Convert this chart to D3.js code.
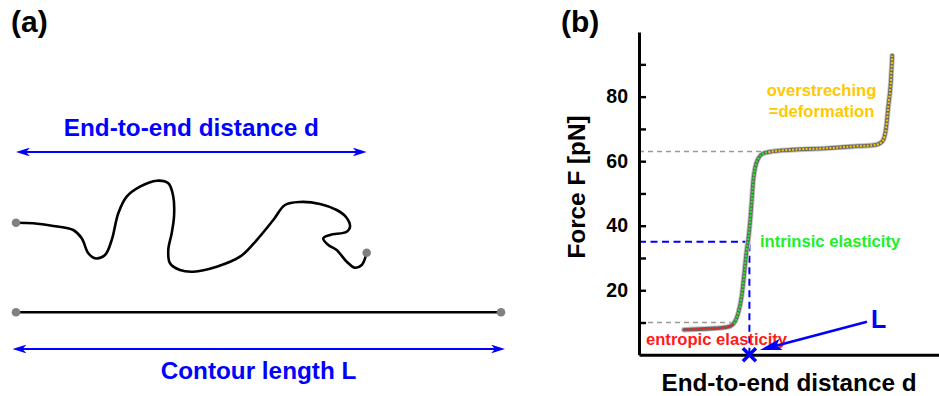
<!DOCTYPE html>
<html><head><meta charset="utf-8">
<script src="https://cdn.jsdelivr.net/npm/d3@7"></script>
<style>
html,body{margin:0;padding:0;background:#fff;}
svg{display:block;font-family:"Liberation Sans",Arial,sans-serif;font-weight:bold;}
</style></head>
<body><svg id="c" width="939" height="396"></svg>
<script>
// ---------- Panel (a): polymer schematic (units: % of contour length) ----------
const contourLength = 100;
const endToEnd = 72.3;
const chainU = [0,3.57,7.69,11.81,13.55,14.91,16.29,18.35,19.73,21.09,22.82,25.57,29.01,31.40,32.43,32.58,32.10,31.40,31.75,33.81,36.56,41.38,46.19,49.63,53.05,55.46,58.56,62.68,66.12,68.04,68.87,68.19,64.74,63.36,64.39,66.12,68.19,69.90,71.28,72.31];
const chainV = [0,-0.12,-0.68,-1.51,-3.22,-6.31,-7.34,-6.66,-3.57,1.94,5.36,7.42,8.66,8.12,5.36,1.24,-2.19,-5.63,-8.37,-9.75,-10.10,-9.07,-7.01,-3.57,0.56,3.65,4.27,3.86,2.62,1.18,-0.82,-1.86,-2.54,-3.22,-4.60,-5.63,-8.04,-9.28,-8.72,-6.19];
const contourLevel = -18.47;
const dArrowLevel = 14.58;
const LArrowLevel = -26.04;

// ---------- Panel (b): force-extension curve ----------
const curveD = [15,20.3,25.3,28.7,30.3,32,33.1,34.2,35.1,35.9,36.4,37,37.6,38.1,38.7,39.8,41.4,43.7,50.3,62.6,70.3,73.7,78.7,81,81.8,82.4,83.1,83.9,84.4];
const curveF = [7.75,7.97,8.2,8.5,8.8,10.3,13.0,18.0,25.3,32.5,35.6,40.9,48.0,54.2,57.9,60.9,62.4,62.9,63.5,64.0,64.5,64.7,65.0,66.0,67.5,70.5,77.0,84.0,92.7];
const yTicks = [10,20,30,40,50,60,70,80,90];
const phaseNames = ["entropic elasticity","intrinsic elasticity","overstreching"];
const phaseEnds = [31.5, 43, 100];
const plateauLow = 10, plateauLowEnd = 32.6;
const plateauHigh = 63, plateauHighEnd = 42.6;
const LPos = 36.8, LForce = 35;
const LLabelD = 76, LLabelF = 10.26, LTipD = 40.3, LTipF = 1.5;

const svg = d3.select("#c");
const defs = svg.append("defs");
function stealth(id, color, len, hw, notch){
  defs.append("marker").attr("id",id).attr("markerUnits","userSpaceOnUse")
    .attr("viewBox",`${-len} ${-hw} ${len+len} ${2*hw}`)
    .attr("markerWidth",2*len).attr("markerHeight",2*hw)
    .attr("refX",0).attr("refY",0).attr("orient","auto-start-reverse")
    .append("path").attr("d",`M${-len+6},${-hw}L6,0L${-len+6},${hw}L${-len+6+notch},0Z`).attr("fill",color);
}
stealth("arrA","#0000ff",14,4.4,4);
stealth("arrL","#0000ff",22,5.8,5);

// ===== Panel (a) =====
const xa = d3.scaleLinear().domain([0,100]).range([16,501]);
const ya = d3.scaleLinear().domain([0,10]).range([222.7,174.2]);
const ga = svg.append("g");
ga.append("text").attr("x",11).attr("y",32).attr("font-size",30).attr("fill","#000").text("(a)");

// d arrow
ga.append("line").attr("x1",xa(0)+6).attr("x2",xa(endToEnd)-6)
  .attr("y1",ya(dArrowLevel)).attr("y2",ya(dArrowLevel))
  .attr("stroke","#0000ff").attr("stroke-width",1.8)
  .attr("marker-start","url(#arrA)").attr("marker-end","url(#arrA)");
ga.append("text").attr("x",(xa(0)+xa(endToEnd))/2).attr("y",ya(dArrowLevel)-15.5)
  .attr("text-anchor","middle").attr("font-size",24.3).attr("fill","#0000ff").text("End-to-end distance d");

// chain
const chainPts = chainU.map((u,i)=>[xa(u), ya(chainV[i])]);
ga.append("path").attr("d", d3.line().curve(d3.curveCatmullRom.alpha(0.5))(chainPts))
  .attr("fill","none").attr("stroke","#000").attr("stroke-width",2.6).attr("stroke-linejoin","round");
ga.selectAll(".ce").data([0, chainU.length-1]).join("circle")
  .attr("cx",i=>xa(chainU[i])).attr("cy",i=>ya(chainV[i])).attr("r",4.3).attr("fill","#808080");

// contour line
ga.append("line").attr("x1",xa(0)).attr("x2",xa(contourLength))
  .attr("y1",ya(contourLevel)).attr("y2",ya(contourLevel))
  .attr("stroke","#000").attr("stroke-width",2.6);
ga.selectAll(".cl").data([0,contourLength]).join("circle")
  .attr("cx",d=>xa(d)).attr("cy",ya(contourLevel)).attr("r",4.3).attr("fill","#808080");

// L arrow
ga.append("line").attr("x1",xa(0)-3.5+6).attr("x2",xa(contourLength)+4-6)
  .attr("y1",ya(LArrowLevel)).attr("y2",ya(LArrowLevel))
  .attr("stroke","#0000ff").attr("stroke-width",1.8)
  .attr("marker-start","url(#arrA)").attr("marker-end","url(#arrA)");
ga.append("text").attr("x",xa(contourLength/2)).attr("y",ya(LArrowLevel)+30)
  .attr("text-anchor","middle").attr("font-size",24.3).attr("fill","#0000ff").text("Contour length L");

// ===== Panel (b) =====
const xb = d3.scaleLinear().domain([0,100]).range([639,939]);
const yb = d3.scaleLinear().domain([0,100]).range([354.8,32.1]);
const gb = svg.append("g");
gb.append("text").attr("x",561).attr("y",32).attr("font-size",30).attr("fill","#000").text("(b)");

// reference dashed lines
gb.append("line").attr("x1",xb(0)).attr("x2",xb(plateauLowEnd)).attr("y1",yb(plateauLow)).attr("y2",yb(plateauLow))
  .attr("stroke","#999").attr("stroke-width",1.6).attr("stroke-dasharray","5,4");
gb.append("line").attr("x1",xb(0)).attr("x2",xb(plateauHighEnd)).attr("y1",yb(plateauHigh)).attr("y2",yb(plateauHigh))
  .attr("stroke","#999").attr("stroke-width",1.6).attr("stroke-dasharray","5,4");
gb.append("line").attr("x1",xb(0)).attr("x2",xb(LPos)).attr("y1",yb(LForce)).attr("y2",yb(LForce))
  .attr("stroke","#0000ff").attr("stroke-width",2).attr("stroke-dasharray","7,4.5");
gb.append("line").attr("x1",xb(LPos)).attr("x2",xb(LPos)).attr("y1",yb(0)).attr("y2",yb(LForce))
  .attr("stroke","#0000ff").attr("stroke-width",2).attr("stroke-dasharray","7,4.5");

// curve
const line = d3.line().x((d,i)=>xb(curveD[i])).y((d,i)=>yb(curveF[i])).curve(d3.curveMonotoneX);
const cpath = line(curveD);
gb.append("path").attr("d",cpath).attr("fill","none").attr("stroke","#c4c4c4").attr("stroke-width",5.5).attr("stroke-linecap","round");
gb.append("path").attr("d",cpath).attr("fill","none").attr("stroke","#666").attr("stroke-width",3.6).attr("stroke-linecap","round");
const phaseColors = ["#ff1a1a","#22ee22","#ffc800"];
phaseEnds.forEach((e,i)=>{
  const s = i===0 ? 0 : phaseEnds[i-1];
  const cid = "clip"+i;
  defs.append("clipPath").attr("id",cid).append("rect")
    .attr("x",xb(s)).attr("y",0).attr("width",xb(e)-xb(s)).attr("height",396);
  gb.append("path").attr("d",cpath).attr("fill","none").attr("clip-path",`url(#${cid})`)
    .attr("stroke",phaseColors[i]).attr("stroke-width",2.1).attr("stroke-dasharray","1.9,1.5");
});

// axes
const yAxis = d3.axisLeft(yb).tickValues(yTicks).tickSizeInner(-7).tickSizeOuter(0).tickPadding(11)
  .tickFormat(d => d%20===0 ? d : "");
const ay = gb.append("g").attr("transform",`translate(${xb(0)},0)`).call(yAxis);
ay.select(".domain").attr("stroke","#000").attr("stroke-width",3);
ay.selectAll(".tick line").attr("stroke","#000").attr("stroke-width",2.4);
ay.selectAll(".tick text").attr("font-size",19.5).attr("font-family","Liberation Sans, Arial, sans-serif").attr("font-weight","bold").attr("fill","#000");
const xAxis = d3.axisBottom(xb).tickValues([]).tickSizeOuter(0);
const ax = gb.append("g").attr("transform",`translate(0,${yb(0)})`).call(xAxis);
ax.select(".domain").attr("stroke","#000").attr("stroke-width",3);

gb.append("text").attr("transform",`translate(585,${yb(52)}) rotate(-90)`).attr("text-anchor","middle")
  .attr("font-size",24.3).attr("fill","#000").text("Force F [pN]");
gb.append("text").attr("x",789).attr("y",391).attr("text-anchor","middle")
  .attr("font-size",24.3).attr("fill","#000").text("End-to-end distance d");

// phase labels
gb.append("text").attr("x",646).attr("y",345).attr("font-size",16.6).attr("fill",phaseColors[0]).text(phaseNames[0]);
gb.append("text").attr("x",760).attr("y",247).attr("font-size",16.6).attr("fill",phaseColors[1]).text(phaseNames[1]);
gb.append("text").attr("x",821.5).attr("y",96).attr("text-anchor","middle").attr("font-size",16.6).attr("fill",phaseColors[2]).text(phaseNames[2]);
gb.append("text").attr("x",821.5).attr("y",117).attr("text-anchor","middle").attr("font-size",16.6).attr("fill",phaseColors[2]).text("=deformation");

// L marker and arrow
const mx = xb(LPos), my = yb(0), ms = 6.5;
gb.append("path").attr("d",`M${mx-ms},${my-ms}L${mx+ms},${my+ms}M${mx-ms},${my+ms}L${mx+ms},${my-ms}`)
  .attr("stroke","#0000ff").attr("stroke-width",3.5);
const ang = Math.atan2(yb(LTipF)-yb(LLabelF), xb(LTipD)-xb(LLabelD));
gb.append("line").attr("x1",xb(LLabelD)).attr("y1",yb(LLabelF))
  .attr("x2",xb(LTipD)-6*Math.cos(ang)).attr("y2",yb(LTipF)-6*Math.sin(ang))
  .attr("stroke","#0000ff").attr("stroke-width",2.6).attr("marker-end","url(#arrL)");
gb.append("text").attr("x",871).attr("y",328).attr("font-size",25).attr("fill","#0000ff").text("L");
</script></body></html>
